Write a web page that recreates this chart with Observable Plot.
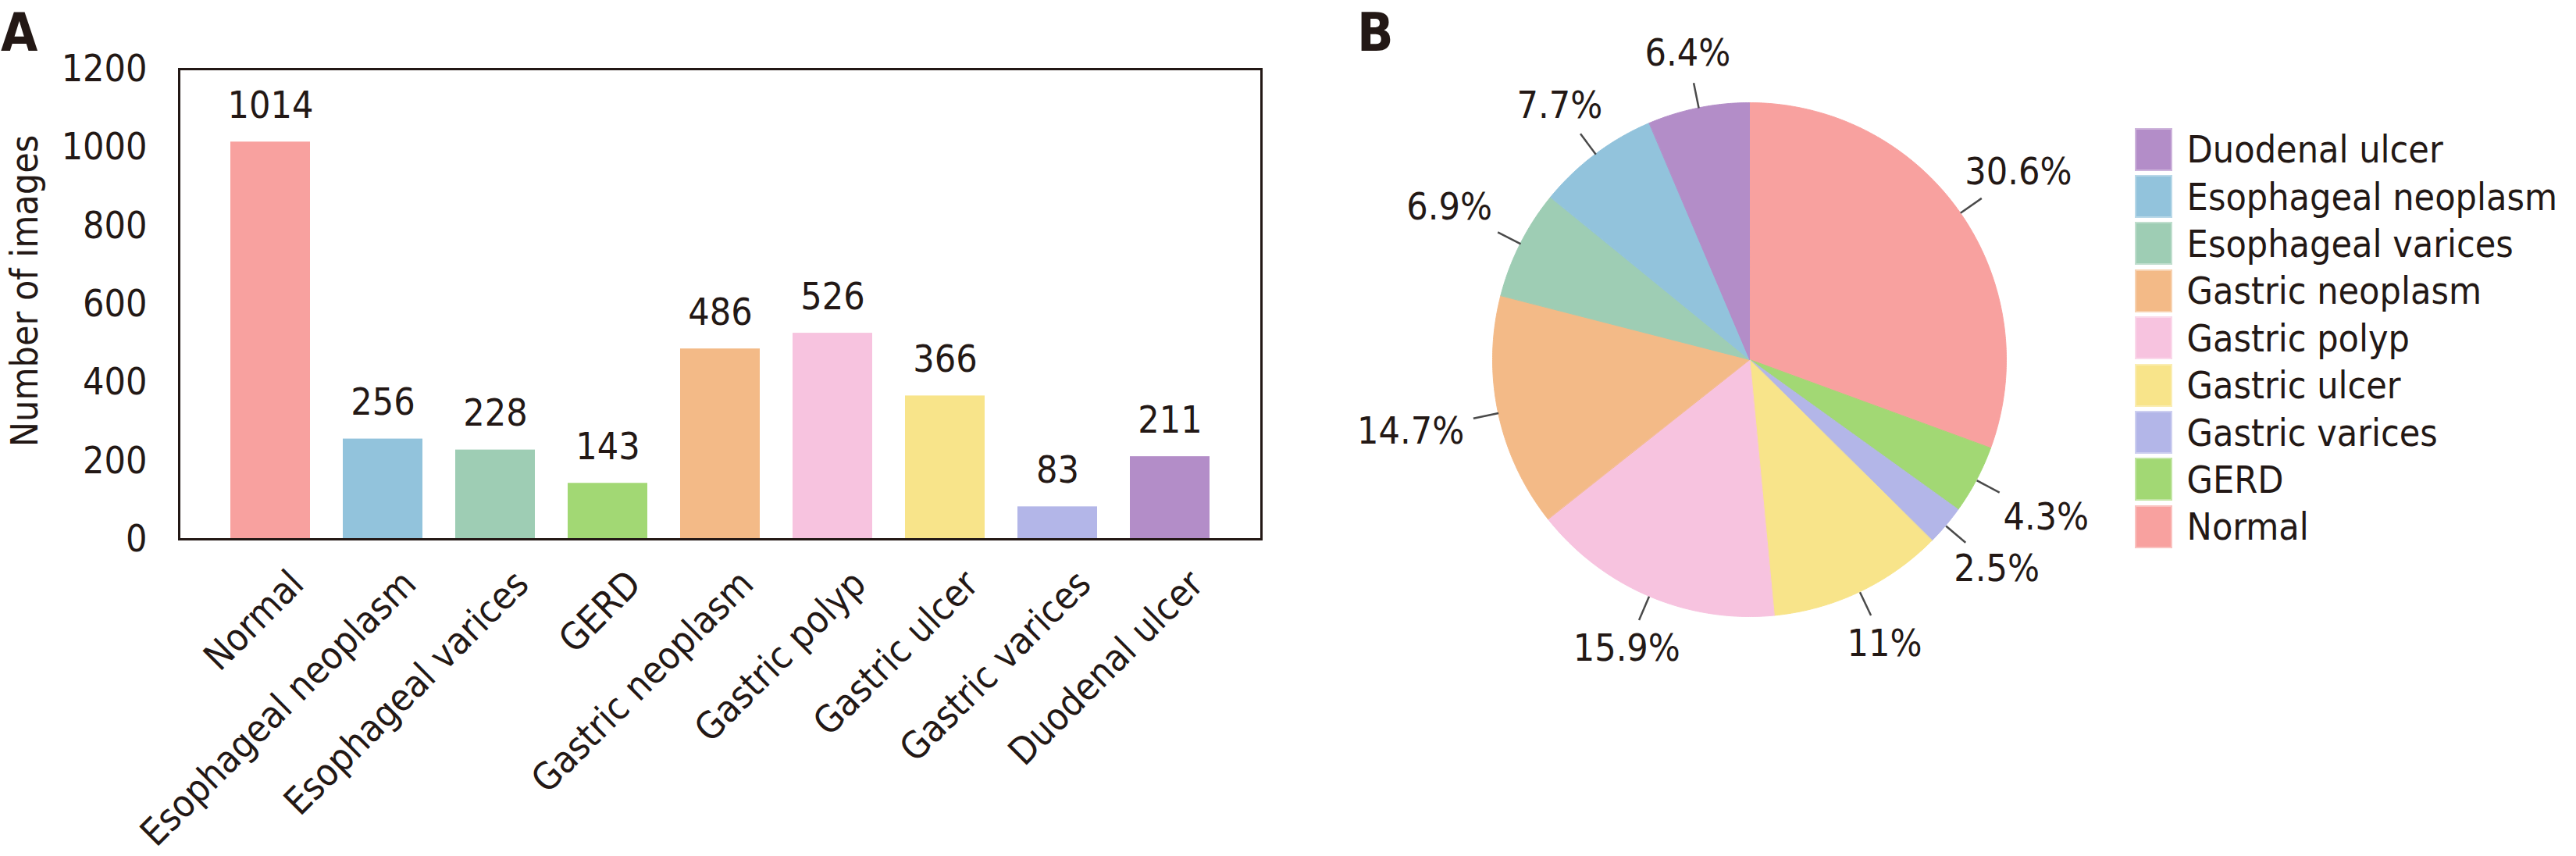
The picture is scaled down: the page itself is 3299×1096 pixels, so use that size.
<!DOCTYPE html>
<html>
<head>
<meta charset="utf-8">
<script src="https://cdn.jsdelivr.net/npm/d3@7"></script>
<script src="https://cdn.jsdelivr.net/npm/@observablehq/plot@0.6"></script>
<style>
  html, body { margin: 0; padding: 0; background: #fff; }
  #root { position: relative; width: 3299px; height: 1096px; overflow: hidden; background: #fff;
          font-family: "DejaVu Sans", sans-serif; font-stretch: condensed; color: #231815; }
  .panel { position: absolute; font-weight: bold; font-size: 68px; line-height: 68px; z-index: 5; }
  .plot { position: absolute; top: 0; }
  #legend { position: absolute; left: 2734px; top: 161px; }
  .row { display: flex; align-items: center; height: 60.4px; }
  .sw { width: 48px; height: 55px; margin-right: 18.6px; box-shadow: inset 0 0 0 2px rgba(255,255,255,0.35); }
  .lt { font-size: 48px; line-height: 48px; white-space: nowrap; }
</style>
</head>
<body>
<div id="root"></div>
<script>
// ---------- data ----------
const categories = ["Normal", "Esophageal neoplasm", "Esophageal varices", "GERD", "Gastric neoplasm",
                    "Gastric polyp", "Gastric ulcer", "Gastric varices", "Duodenal ulcer"];
const counts = [1014, 256, 228, 143, 486, 526, 366, 83, 211];
const colors = ["#F8A19F", "#92C3DC", "#9ECDB4", "#A2D874", "#F3BA87",
                "#F7C3DF", "#F8E48A", "#B3B6E8", "#B38DC8"];
const legendOrder = ["Duodenal ulcer", "Esophageal neoplasm", "Esophageal varices", "Gastric neoplasm",
                     "Gastric polyp", "Gastric ulcer", "Gastric varices", "GERD", "Normal"];
const yTicks = [0, 200, 400, 600, 800, 1000, 1200];
const yLabel = "Number of images";

// ---------- style ----------
const FONT = '"DejaVu Sans", sans-serif';
const INK = "#231815";
const FS = 48;
const root = document.getElementById("root");

function panel(txt, left, top) {
  const d = document.createElement("div");
  d.className = "panel"; d.textContent = txt;
  d.style.left = left + "px"; d.style.top = top + "px";
  root.appendChild(d);
}

const baseStyle = {fontFamily: FONT, fontStretch: "condensed", fontSize: FS + "px", color: INK,
                   background: "transparent", overflow: "visible"};

// ---------- A: bar chart ----------
const barData = categories.map((c, i) => ({cat: c, n: counts[i]}));
const bar = Plot.plot({
  width: 1700, height: 1096,
  marginLeft: 229, marginRight: 85, marginTop: 88, marginBottom: 406,
  style: baseStyle,
  x: {domain: categories, paddingInner: 0.29, paddingOuter: 0.45, label: null},
  y: {domain: [0, 1200], label: null},
  color: {domain: categories, range: colors},
  marks: [
    Plot.barY(barData, {x: "cat", y: "n", fill: "cat"}),
    Plot.text(barData, {x: "cat", y: "n", text: d => String(d.n), lineAnchor: "bottom", dy: -31, fill: INK, fontSize: FS}),
    Plot.frame({stroke: INK, strokeWidth: 3}),
    Plot.axisY({ticks: yTicks, tickFormat: d => String(d), tickSize: 0, tickPadding: 41, fontSize: FS, fill: INK, label: null}),
    Plot.axisX({tickSize: 0, tickRotate: -45, tickPadding: 36, dx: 21, textAnchor: "end", lineAnchor: "top",
                fontSize: FS, fill: INK, label: null}),
    Plot.text([yLabel], {frameAnchor: "left", rotate: -90, text: d => d, textAnchor: "middle", lineAnchor: "bottom",
                         dx: -182, dy: -17, fill: INK, fontSize: FS})
  ]
});
bar.classList.add("plot");
bar.style.left = "0px";
root.appendChild(bar);

// ---------- B: pie chart ----------
const pieCats = legendOrder.slice().reverse();
const countOf = new Map(categories.map((c, i) => [c, counts[i]]));
const total = d3.sum(counts);
const arcs = d3.pie().sort(null).value(c => countOf.get(c))(pieCats);

const R = 329, CX = 540.5, CY = 460.5, PW = 1599, PH = 1096;
const wedge = [];
for (const a of arcs) {
  const n = Math.max(2, Math.ceil((a.endAngle - a.startAngle) / (Math.PI / 360)));
  for (let k = 0; k <= n; k++) {
    const t = a.startAngle + (a.endAngle - a.startAngle) * k / n;
    wedge.push({cat: a.data, x: Math.sin(t), y: Math.cos(t)});
  }
}

const ctx = document.createElement("canvas").getContext("2d");
ctx.font = `condensed ${FS}px ${FONT}`;
const fmt = d3.format(".1~f");
const labels = arcs.map(a => {
  const m = (a.startAngle + a.endAngle) / 2;
  const dx = Math.sin(m), dy = Math.cos(m);
  const txt = fmt(countOf.get(a.data) / total * 100) + "%";
  const w = ctx.measureText(txt).width;
  const hh = 26;
  const t = 12 + Math.min(w / 2 / Math.max(Math.abs(dx), 1e-6), hh / Math.max(Math.abs(dy), 1e-6));
  const e = 1.1;
  return {cat: a.data, txt, x0: dx, y0: dy, x1: dx * e, y1: dy * e,
          lx: dx * e + dx * t / R, ly: dy * e + dy * t / R};
});

const pie = Plot.plot({
  width: PW, height: PH, margin: 0,
  style: baseStyle,
  x: {domain: [-CX / R, (PW - CX) / R]},
  y: {domain: [-(PH - CY) / R, CY / R]},
  axis: null,
  color: {domain: categories, range: colors},
  marks: [
    Plot.area(wedge, {x1: "x", y1: "y", x2: () => 0, y2: () => 0, z: "cat", fill: "cat",
                      stroke: "cat", strokeWidth: 1, curve: "linear"}),
    Plot.link(labels, {x1: "x0", y1: "y0", x2: "x1", y2: "y1", stroke: "#4a4a4a", strokeWidth: 2.5}),
    Plot.text(labels, {x: "lx", y: "ly", text: "txt", fontSize: FS, fill: INK, lineAnchor: "middle"})
  ]
});
pie.classList.add("plot");
pie.style.left = "1700px";
root.appendChild(pie);

// ---------- legend ----------
const colorOf = new Map(categories.map((c, i) => [c, colors[i]]));
const leg = document.createElement("div");
leg.id = "legend";
for (const c of legendOrder) {
  const row = document.createElement("div"); row.className = "row";
  const sw = document.createElement("div"); sw.className = "sw"; sw.style.background = colorOf.get(c);
  const lt = document.createElement("div"); lt.className = "lt"; lt.textContent = c;
  row.appendChild(sw); row.appendChild(lt); leg.appendChild(row);
}
root.appendChild(leg);

panel("A", 1, 8);
panel("B", 1738, 8);
</script>
</body>
</html>
